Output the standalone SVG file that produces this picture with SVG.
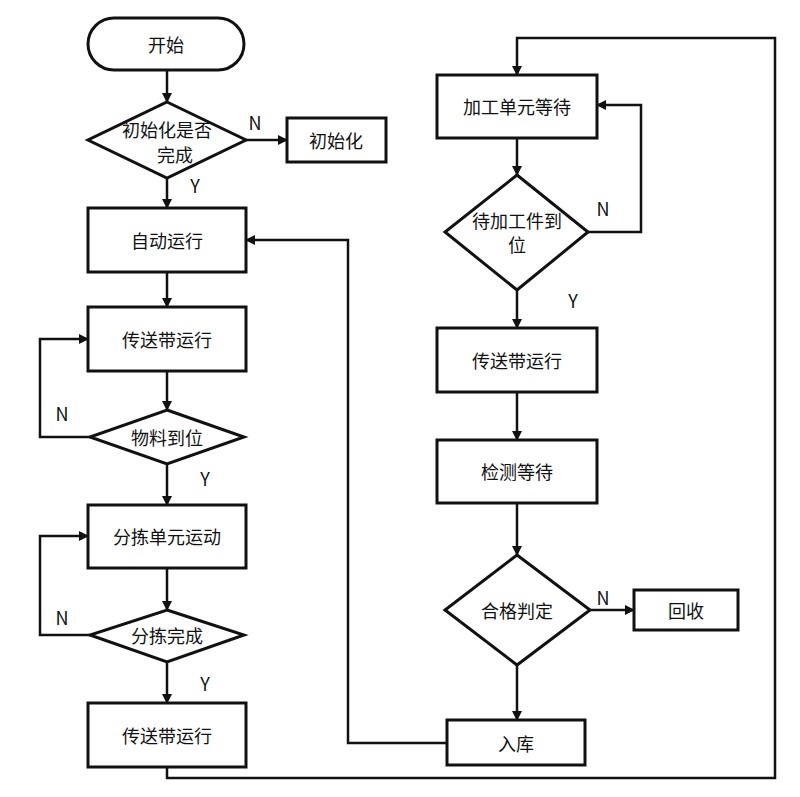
<svg xmlns="http://www.w3.org/2000/svg" width="800" height="797" viewBox="0 0 800 797">
<defs>
<marker id="a" markerWidth="10" markerHeight="10" refX="9" refY="5" orient="auto" markerUnits="userSpaceOnUse" viewBox="0 0 10 10"><path d="M0,0 L10,5 L0,10 z" fill="#111"/></marker>
<style>
.n{fill:#fff;stroke:#111;stroke-width:3}
.c{fill:none;stroke:#111;stroke-width:2.5;marker-end:url(#a)}
text{font-family:"Noto Sans CJK SC","Liberation Sans",sans-serif;font-size:18px;fill:#111;text-anchor:middle;dominant-baseline:central}
</style>
</defs>
<rect width="800" height="797" fill="#fff"/>
<g id="connectors">
<path class="c" d="M167,70 V102"/>
<path class="c" d="M246,140 H287"/>
<path class="c" d="M167,178 V208"/>
<path class="c" d="M167,272 V307"/>
<path class="c" d="M167,371 V410"/>
<path class="c" d="M90,437 H40 V339 H88"/>
<path class="c" d="M167,464 V505"/>
<path class="c" d="M167,568 V610"/>
<path class="c" d="M90,635 H40 V536 H88"/>
<path class="c" d="M167,662 V703"/>
<path class="c" d="M167,767 V778 H775 V38 H517 V75"/>
<path class="c" d="M517,138 V175"/>
<path class="c" d="M588,232 H641 V105 H597"/>
<path class="c" d="M517,290 V328"/>
<path class="c" d="M517,392 V440"/>
<path class="c" d="M517,503 V555"/>
<path class="c" d="M590,610 H634"/>
<path class="c" d="M517,665 V720"/>
<path class="c" d="M447,743 H348 V240 H246"/>
</g>
<g id="start"><rect class="n" x="88" y="18" width="156" height="52" rx="26"/><text x="166" y="44">开始</text></g>
<g id="d1"><polygon class="n" points="167,102 246,140 167,178 88,140"/><text x="167" y="129">初始化是否</text><text x="175" y="154">完成</text></g>
<g id="init"><rect class="n" x="287" y="118" width="99" height="44"/><text x="336" y="140">初始化</text></g>
<g id="auto"><rect class="n" x="88" y="208" width="158" height="64"/><text x="167" y="240">自动运行</text></g>
<g id="belt1"><rect class="n" x="88" y="307" width="158" height="64"/><text x="167" y="339">传送带运行</text></g>
<g id="d2"><polygon class="n" points="167,410 244,437 167,464 90,437"/><text x="167" y="437">物料到位</text></g>
<g id="sort"><rect class="n" x="88" y="505" width="158" height="63"/><text x="167" y="536">分拣单元运动</text></g>
<g id="d3"><polygon class="n" points="167,610 244,635 167,662 90,635"/><text x="167" y="635">分拣完成</text></g>
<g id="belt2"><rect class="n" x="88" y="703" width="158" height="64"/><text x="167" y="735">传送带运行</text></g>
<g id="wait"><rect class="n" x="437" y="75" width="160" height="63"/><text x="517" y="106">加工单元等待</text></g>
<g id="d4"><polygon class="n" points="517,175 588,232 517,290 445,232"/><text x="517" y="220">待加工件到</text><text x="517" y="244">位</text></g>
<g id="belt3"><rect class="n" x="437" y="328" width="160" height="64"/><text x="517" y="360">传送带运行</text></g>
<g id="check"><rect class="n" x="437" y="440" width="160" height="63"/><text x="517" y="471">检测等待</text></g>
<g id="d5"><polygon class="n" points="517,555 590,610 517,665 445,610"/><text x="517" y="610">合格判定</text></g>
<g id="recycle"><rect class="n" x="634" y="590" width="104" height="40"/><text x="686" y="610">回收</text></g>
<g id="store"><rect class="n" x="447" y="720" width="138" height="45"/><text x="516" y="743">入库</text></g>
<g id="labels">
<text x="255" y="122">N</text><text x="195" y="185">Y</text>
<text x="62" y="413">N</text><text x="205" y="478">Y</text>
<text x="62" y="617">N</text><text x="205" y="683">Y</text>
<text x="603" y="208">N</text><text x="573" y="300">Y</text>
<text x="603" y="597">N</text>
</g>
</svg>
